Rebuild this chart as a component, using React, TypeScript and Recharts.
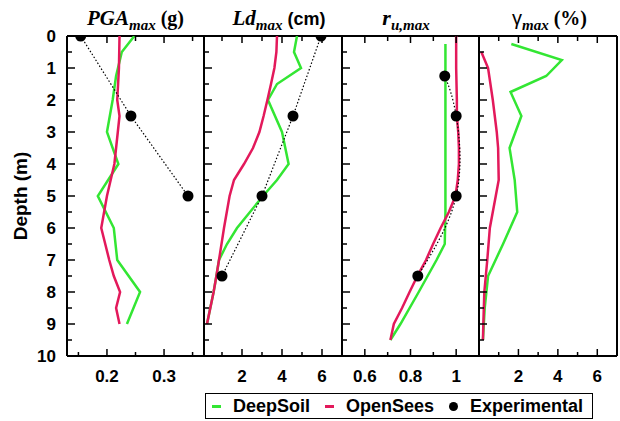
import { Scatter, ScatterChart, XAxis, YAxis } from "recharts";

const SANS = '"Liberation Sans", Arial, sans-serif';
const SERIF = '"Liberation Serif", "Times New Roman", serif';
const GREEN = "#33e633";
const RED = "#e3195b";

// depth axis (shared)
const depthTicks = [0, 0.5, 1, 1.5, 2, 2.5, 3, 3.5, 4, 4.5, 5, 5.5, 6, 6.5, 7, 7.5, 8, 8.5, 9, 9.5, 10];
const depthLabels = [0, 1, 2, 3, 4, 5, 6, 7, 8, 9, 10];

// PGA max (g)
const pgaTicks = [0.15, 0.2, 0.25, 0.3, 0.35];
const pgaLabels = [0.2, 0.3];
const pgaDeepDepth = [0, 0.5, 1.25, 2, 3, 4, 5, 6, 7, 8, 9];
const pgaDeepValue = [0.248, 0.226, 0.216, 0.21, 0.2, 0.22, 0.184, 0.212, 0.218, 0.258, 0.235];
const pgaOpenDepth = [0, 1, 2, 2.5, 3, 4, 5, 6, 7, 7.5, 8, 8.5, 9];
const pgaOpenValue = [0.222, 0.221, 0.218, 0.222, 0.219, 0.213, 0.2, 0.19, 0.204, 0.212, 0.223, 0.216, 0.222];
const pgaExpDepth = [0, 2.5, 5];
const pgaExpValue = [0.154, 0.242, 0.342];

// Ld max (cm)
const ldTicks = [1, 2, 3, 4, 5, 6];
const ldLabels = [2, 4, 6];
const ldDeepDepth = [0, 0.5, 1, 1.5, 2, 3, 4, 4.5, 5, 5.5, 6, 6.5, 7, 7.5, 8, 9];
const ldDeepValue = [4.75, 4.6, 4.95, 3.75, 3.3, 4.0, 4.33, 3.75, 3.05, 2.4, 1.75, 1.25, 0.85, 0.72, 0.58, 0.25];
const ldOpenDepth = [0, 0.5, 1, 1.5, 2, 2.5, 3, 3.5, 4, 4.5, 5, 6, 7, 7.5, 8, 9];
const ldOpenValue = [3.75, 3.72, 3.62, 3.45, 3.27, 3.08, 2.87, 2.55, 2.1, 1.6, 1.38, 1.1, 0.85, 0.72, 0.58, 0.25];
const ldExpDepth = [0, 2.5, 5, 7.5];
const ldExpValue = [5.95, 4.55, 3.0, 1.0];

// ru max
const ruTicks = [0.6, 0.7, 0.8, 0.9, 1];
const ruLabels = [0.6, 0.8, 1];
const ruDeepDepth = [0.25, 5.5, 6.5, 7, 8, 9, 9.5];
const ruDeepValue = [0.953, 0.953, 0.95, 0.914, 0.836, 0.756, 0.712];
const ruOpenDepth = [0, 1, 2, 2.5, 3, 3.5, 4, 4.5, 5, 5.5, 6, 6.5, 7, 7.5, 8, 8.5, 9, 9.5];
const ruOpenValue = [1.0, 1.0, 1.003, 1.003, 1.009, 1.012, 1.012, 1.007, 0.997, 0.968, 0.932, 0.899, 0.868, 0.83, 0.796, 0.763, 0.727, 0.712];
const ruExpDepth = [1.25, 2.5, 5, 7.5];
const ruExpValue = [0.95, 1.0, 1.0, 0.832];

// gamma max (%)
const gamTicks = [1, 2, 3, 4, 5, 6];
const gamLabels = [2, 4, 6];
const gamDeepDepth = [0.25, 0.75, 1.25, 1.75, 2.5, 3.5, 4.5, 5.5, 6.5, 7.5, 8.5, 9.5];
const gamDeepValue = [1.64, 4.2, 3.41, 1.6, 2.15, 1.55, 1.81, 1.94, 1.22, 0.46, 0.29, 0.2];
const gamOpenDepth = [0.5, 1, 2, 3, 3.5, 4.5, 5, 6, 7, 8, 9, 9.5];
const gamOpenValue = [0.12, 0.46, 0.7, 0.9, 0.97, 1.0, 0.85, 0.55, 0.42, 0.27, 0.22, 0.2];

const legendItems = [
  { name: "DeepSoil", color: GREEN, kind: "line" },
  { name: "OpenSees", color: RED, kind: "line" },
  { name: "Experimental", color: "#000", kind: "dot" },
];

const toPoints = (depth: number[], value: number[]) => depth.map((d, i) => ({ d, v: value[i] }));

type Series = { data: { d: number; v: number }[]; kind: "deep" | "open" | "exp"; curve?: string };

function BottomTick(props: any) {
  const { x, y, payload, labels } = props;
  const major = labels.includes(payload.value);
  return (
    <g>
      <line x1={x} x2={x} y1={y} y2={y - (major ? 7 : 4)} stroke="#000" strokeWidth={1.5} />
      {major && (
        <text x={x} y={y + 26} textAnchor="middle" fontFamily={SANS} fontWeight="bold" fontSize={17} fill="#000">
          {String(payload.value)}
        </text>
      )}
    </g>
  );
}

function TopTick(props: any) {
  const { x, y, payload, labels } = props;
  const major = labels.includes(payload.value);
  return <line x1={x} x2={x} y1={y} y2={y + (major ? 7 : 5)} stroke="#000" strokeWidth={1.5} />;
}

function LeftTick(props: any) {
  const { x, y, payload, showLabels } = props;
  const major = depthLabels.includes(payload.value);
  return (
    <g>
      <line x1={x} x2={x + (major ? 8 : 5)} y1={y} y2={y} stroke="#000" strokeWidth={1.5} />
      {showLabels && major && (
        <text x={x - 11} y={y} dy="0.36em" textAnchor="end" fontFamily={SANS} fontWeight="bold" fontSize={17} fill="#000">
          {String(payload.value)}
        </text>
      )}
    </g>
  );
}

function Panel({
  left,
  width,
  domain,
  ticks,
  labels,
  series,
  first,
}: {
  left: number;
  width: number;
  domain: [number, number];
  ticks: number[];
  labels: number[];
  series: Series[];
  first?: boolean;
}) {
  const yw = first ? left : 1;
  const frame = { stroke: "#000", strokeWidth: 2 };
  return (
    <div style={{ position: "absolute", left: left - yw, top: 0 }}>
      <ScatterChart width={yw + width + 4} height={421} margin={{ top: 30, right: 3, bottom: 35, left: 0 }}>
        <XAxis
          type="number"
          dataKey="v"
          domain={domain}
          allowDataOverflow
          ticks={ticks}
          interval={0}
          height={30}
          tickSize={0}
          tickMargin={0}
          tickLine={false}
          axisLine={frame}
          tick={(p: any) => <BottomTick {...p} labels={labels} />}
        />
        <XAxis
          xAxisId="top"
          orientation="top"
          type="number"
          dataKey="v"
          domain={domain}
          allowDataOverflow
          ticks={ticks}
          interval={0}
          height={6}
          tickSize={0}
          tickMargin={0}
          tickLine={false}
          axisLine={frame}
          tick={(p: any) => <TopTick {...p} labels={labels} />}
        />
        <YAxis
          type="number"
          dataKey="d"
          domain={[0, 10]}
          reversed
          allowDataOverflow
          ticks={depthTicks}
          interval={0}
          width={yw}
          tickSize={0}
          tickMargin={0}
          tickLine={false}
          axisLine={frame}
          tick={(p: any) => <LeftTick {...p} showLabels={first} />}
        />
        <YAxis
          yAxisId="r"
          orientation="right"
          type="number"
          dataKey="d"
          domain={[0, 10]}
          reversed
          width={1}
          tick={false}
          tickLine={false}
          axisLine={frame}
        />
        {series.map((s, i) =>
          s.kind === "exp" ? (
            <Scatter
              key={i}
              data={s.data}
              line={{ stroke: "#000", strokeWidth: 1.2, strokeDasharray: "1.5 2" }}
              lineType="joint"
              lineJointType={(s.curve ?? "linear") as any}
              shape={(p: any) => <circle cx={p.cx} cy={p.cy} r={5.5} fill="#000" />}
              isAnimationActive={false}
            />
          ) : (
            <Scatter
              key={i}
              data={s.data}
              line={{ stroke: s.kind === "deep" ? GREEN : RED, strokeWidth: 2.5 }}
              lineType="joint"
              shape={() => <g />}
              isAnimationActive={false}
            />
          )
        )}
      </ScatterChart>
    </div>
  );
}

const sub = { fontFamily: SERIF, fontStyle: "italic" as const, fontWeight: "bold" as const, fontSize: 15, verticalAlign: "-5px" };

function Title({ center, children }: { center: number; children: any }) {
  return (
    <div
      style={{
        position: "absolute",
        left: center - 100,
        top: 6,
        width: 200,
        textAlign: "center",
        whiteSpace: "nowrap",
        lineHeight: "24px",
        color: "#000",
      }}
    >
      {children}
    </div>
  );
}

export default function App() {
  const panels = [
    {
      left: 67,
      width: 137,
      domain: [0.13, 0.37] as [number, number],
      ticks: pgaTicks,
      labels: pgaLabels,
      series: [
        { data: toPoints(pgaDeepDepth, pgaDeepValue), kind: "deep" },
        { data: toPoints(pgaOpenDepth, pgaOpenValue), kind: "open" },
        { data: toPoints(pgaExpDepth, pgaExpValue), kind: "exp" },
      ] as Series[],
      first: true,
    },
    {
      left: 204,
      width: 138,
      domain: [0.1, 7] as [number, number],
      ticks: ldTicks,
      labels: ldLabels,
      series: [
        { data: toPoints(ldDeepDepth, ldDeepValue), kind: "deep" },
        { data: toPoints(ldOpenDepth, ldOpenValue), kind: "open" },
        { data: toPoints(ldExpDepth, ldExpValue), kind: "exp" },
      ] as Series[],
    },
    {
      left: 342,
      width: 137,
      domain: [0.5, 1.1] as [number, number],
      ticks: ruTicks,
      labels: ruLabels,
      series: [
        { data: toPoints(ruDeepDepth, ruDeepValue), kind: "deep" },
        { data: toPoints(ruOpenDepth, ruOpenValue), kind: "open" },
        { data: toPoints(ruExpDepth, ruExpValue), kind: "exp", curve: "natural" },
      ] as Series[],
    },
    {
      left: 479,
      width: 138,
      domain: [0, 7] as [number, number],
      ticks: gamTicks,
      labels: gamLabels,
      series: [
        { data: toPoints(gamDeepDepth, gamDeepValue), kind: "deep" },
        { data: toPoints(gamOpenDepth, gamOpenValue), kind: "open" },
      ] as Series[],
    },
  ];

  return (
    <div style={{ position: "absolute", left: 0, top: 0, width: 620, height: 421, background: "#fff", overflow: "hidden" }}>
      {panels.map((p, i) => (
        <Panel key={i} {...p} />
      ))}

      <Title center={135.5}>
        <span style={{ fontFamily: SERIF, fontStyle: "italic", fontWeight: "bold", fontSize: 21 }}>PGA</span>
        <span style={sub}>max</span>
        <span style={{ fontFamily: SERIF, fontWeight: "bold", fontSize: 20 }}> (g)</span>
      </Title>
      <Title center={279}>
        <span style={{ fontFamily: SERIF, fontStyle: "italic", fontWeight: "bold", fontSize: 21 }}>Ld</span>
        <span style={sub}>max</span>
        <span style={{ fontFamily: SANS, fontWeight: "bold", fontSize: 18 }}> (cm)</span>
      </Title>
      <Title center={406}>
        <span style={{ fontFamily: SERIF, fontStyle: "italic", fontWeight: "bold", fontSize: 22 }}>r</span>
        <span style={sub}>u,max</span>
      </Title>
      <Title center={549.5}>
        <span style={{ fontFamily: SANS, fontSize: 20 }}>γ</span>
        <span style={sub}>max</span>
        <span style={{ fontFamily: SERIF, fontWeight: "bold", fontSize: 20 }}> (%)</span>
      </Title>

      <div
        style={{
          position: "absolute",
          left: 21,
          top: 196,
          transform: "translate(-50%, -50%) rotate(-90deg)",
          whiteSpace: "nowrap",
          fontFamily: SANS,
          fontWeight: "bold",
          fontSize: 19,
          color: "#000",
        }}
      >
        Depth (m)
      </div>

      <div
        style={{
          position: "absolute",
          left: 205,
          top: 393,
          width: 388,
          height: 26,
          boxSizing: "border-box",
          border: "1.5px solid #000",
          display: "flex",
          alignItems: "center",
          paddingLeft: 6,
          gap: 15,
          fontFamily: SANS,
          fontWeight: "bold",
          fontSize: 18,
          color: "#000",
        }}
      >
        {legendItems.map((it) => (
          <div key={it.name} style={{ display: "flex", alignItems: "center", gap: 12 }}>
            {it.kind === "line" ? (
              <span style={{ display: "inline-block", width: 9, height: 3, background: it.color }} />
            ) : (
              <span style={{ display: "inline-block", width: 9, height: 9, borderRadius: "50%", background: it.color }} />
            )}
            <span>{it.name}</span>
          </div>
        ))}
      </div>
    </div>
  );
}
